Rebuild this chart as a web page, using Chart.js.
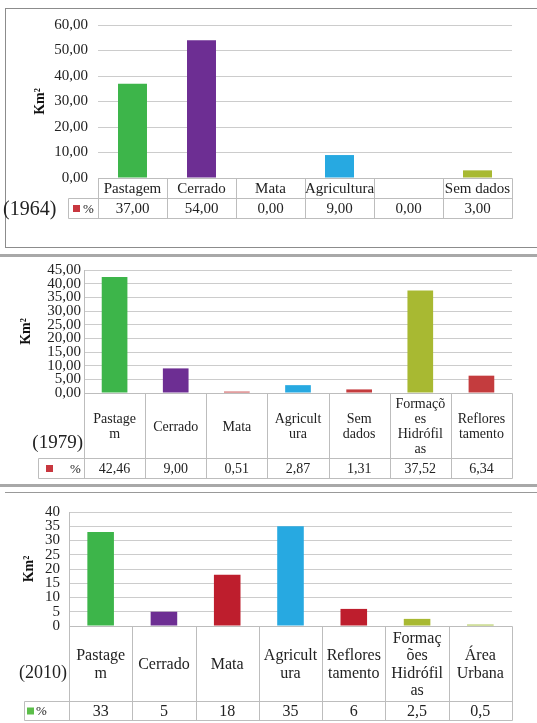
<!DOCTYPE html>
<html>
<head>
<meta charset="utf-8">
<script src="https://cdn.jsdelivr.net/npm/chart.js@4"></script>
<style>
  html, body { margin: 0; padding: 0; background: #fff; }
  body { width: 537px; height: 723px; position: relative; overflow: hidden; }
  canvas { position: absolute; left: 0; }
  .frame { position: absolute; left: 5px; top: 8px; width: 560px; height: 240px; border: 1.5px solid #8c8c8c; box-sizing: border-box; }
  .rule { position: absolute; left: 0; width: 537px; background: #a8a8a8; }
</style>
</head>
<body>
<div class="frame"></div>
<div class="rule" style="top:254px;height:3px"></div>
<div class="rule" style="top:484px;height:3px"></div>
<div class="rule" style="top:492px;height:1px;left:5px;background:#999"></div>
<canvas id="c1964" width="537" height="250" style="top:0"></canvas>
<canvas id="c1979" width="537" height="228" style="top:257px"></canvas>
<canvas id="c2010" width="537" height="229" style="top:494px"></canvas>
<script>
// dados 1964
const cats1964 = [['Pastagem'], ['Cerrado'], ['Mata'], ['Agricultura'], [''], ['Sem dados']];
const vals1964 = [37, 54, 0, 9, 0, 3];
const ticks1964 = { min: 0, max: 60, step: 10 };

// dados 1979
const cats1979 = [['Pastage', 'm'], ['Cerrado'], ['Mata'], ['Agricult', 'ura'], ['Sem', 'dados'],
  ['Formaçõ', 'es', 'Hidrófil', 'as'], ['Reflores', 'tamento']];
const vals1979 = [42.46, 9.00, 0.51, 2.87, 1.31, 37.52, 6.34];
const ticks1979 = { min: 0, max: 45, step: 5 };

// dados 2010
const cats2010 = [['Pastage', 'm'], ['Cerrado'], ['Mata'], ['Agricult', 'ura'], ['Reflores', 'tamento'],
  ['Formaç', 'ões', 'Hidrófil', 'as'], ['Área', 'Urbana']];
const vals2010 = [33, 5, 18, 35, 6, 2.5, 0.5];
const ticks2010 = { min: 0, max: 40, step: 5 };

// cores
const GREEN = '#3db54a', PURPLE = '#6d2e93', BLUE = '#27a9e1', OLIVE = '#a8b932';
const RED79 = '#c43c3e', RED10 = '#be1e2d';
const colors1964 = [GREEN, PURPLE, RED79, BLUE, OLIVE, OLIVE];
const colors1979 = [GREEN, PURPLE, RED79, BLUE, RED79, OLIVE, RED79];
const colors2010 = [GREEN, PURPLE, RED10, BLUE, RED10, OLIVE, '#a3bf3c'];

const SERIF = "'Liberation Serif', 'Times New Roman', serif";
Chart.defaults.font.family = SERIF;
Chart.defaults.color = '#222';

const fix2 = v => v.toFixed(2).replace('.', ',');
const plain = v => String(v).replace('.', ',');

// tabela de dados abaixo do gráfico
const tablePlugin = {
  id: 'dataTable',
  afterDraw(chart, args, o) {
    const { ctx, chartArea } = chart;
    const xs = chart.scales.x;
    const n = chart.data.labels.length;
    const w = xs.getPixelForValue(1) - xs.getPixelForValue(0);
    const top = Math.round(chartArea.bottom) + 0.5;
    const mid = top + o.row1;
    const bot = mid + o.row2;
    const left = Math.round(chartArea.left) + 0.5;
    const right = Math.round(chartArea.right) + 0.5;

    ctx.save();
    ctx.strokeStyle = '#bdbdbd';
    ctx.lineWidth = 1;
    ctx.beginPath();
    ctx.moveTo(left, top); ctx.lineTo(right, top);
    ctx.moveTo(o.legendLeft + 0.5, mid); ctx.lineTo(right, mid);
    ctx.moveTo(o.legendLeft + 0.5, bot); ctx.lineTo(right, bot);
    ctx.moveTo(o.legendLeft + 0.5, mid); ctx.lineTo(o.legendLeft + 0.5, bot);
    for (let i = 0; i <= n; i++) {
      const bx = Math.round(xs.getPixelForValue(i) - w / 2) + 0.5;
      ctx.moveTo(bx, top); ctx.lineTo(bx, bot);
    }
    ctx.stroke();

    ctx.fillStyle = '#222';
    ctx.textAlign = 'center';
    ctx.textBaseline = 'middle';
    ctx.font = o.font;
    const catMid = (top + mid) / 2;
    const valMid = (mid + bot) / 2;
    o.cats.forEach((lines, i) => {
      const cx = xs.getPixelForValue(i);
      const y0 = catMid - (lines.length - 1) * o.lh / 2 + 1;
      lines.forEach((t, k) => ctx.fillText(t, cx, y0 + k * o.lh));
      ctx.fillText(o.fmt(o.vals[i]), cx, valMid + 1);
    });

    // legenda
    ctx.fillStyle = o.legendColor;
    ctx.fillRect(o.sqX, valMid - 3.5, 7, 7);
    ctx.fillStyle = '#222';
    ctx.textAlign = 'left';
    ctx.font = '13px ' + SERIF;
    ctx.fillText('%', o.pctX, valMid + 1);

    // ano
    ctx.font = o.yearFont;
    ctx.textAlign = o.yearAlign;
    ctx.fillText(o.year, o.yearX, o.yearY === 'row2' ? valMid + 1 : o.yearY);
    ctx.restore();
  }
};

function makeChart(id, cfg) {
  return new Chart(document.getElementById(id), {
    type: 'bar',
    data: {
      labels: cfg.cats.map(l => l.join(' ')),
      datasets: [{
        data: cfg.vals,
        backgroundColor: cfg.colors,
        barPercentage: 0.42,
        categoryPercentage: 1
      }]
    },
    options: {
      responsive: false,
      animation: false,
      events: [],
      layout: { padding: { top: cfg.padTop, right: 25, bottom: cfg.padBottom, left: cfg.padLeft } },
      plugins: {
        legend: { display: false },
        tooltip: { enabled: false },
        dataTable: cfg.table
      },
      scales: {
        x: {
          ticks: { display: false },
          grid: { display: false },
          border: { display: false },
          afterFit: s => { s.height = cfg.xHeight; }
        },
        y: {
          min: cfg.ticks.min,
          max: cfg.ticks.max,
          ticks: {
            stepSize: cfg.ticks.step,
            autoSkip: false,
            padding: cfg.tickPad,
            font: { size: cfg.tickSize },
            callback: v => cfg.tickFmt(v)
          },
          grid: { color: '#cccccc', drawTicks: false },
          border: { display: cfg.yBorder, color: '#bdbdbd' },
          title: {
            display: true,
            text: 'Km²',
            font: { size: 14, weight: 'bold' },
            padding: { top: 0, bottom: 0 },
            color: '#111'
          },
          afterFit: s => { s.width = cfg.yWidth; }
        }
      }
    },
    plugins: [tablePlugin]
  });
}

makeChart('c1964', {
  cats: cats1964, vals: vals1964, colors: colors1964, ticks: ticks1964,
  padTop: 25, padBottom: 27, padLeft: 32, xHeight: 45, yWidth: 66,
  tickPad: 10, tickSize: 15, tickFmt: fix2, yBorder: false,
  table: {
    cats: cats1964, vals: vals1964, fmt: fix2, row1: 20, row2: 20, lh: 15,
    font: '15px ' + SERIF, legendLeft: 68, legendColor: '#c8373f', sqX: 73, pctX: 83,
    year: '(1964)', yearFont: '20px ' + SERIF, yearAlign: 'left', yearX: 3, yearY: 'row2'
  }
});

makeChart('c1979', {
  cats: cats1979, vals: vals1979, colors: colors1979, ticks: ticks1979,
  padTop: 13, padBottom: 12, padLeft: 18, xHeight: 80, yWidth: 66,
  tickPad: 3, tickSize: 15, tickFmt: fix2, yBorder: true,
  table: {
    cats: cats1979, vals: vals1979, fmt: fix2, row1: 65, row2: 20, lh: 15,
    font: '14px ' + SERIF, legendLeft: 38, legendColor: '#c8373f', sqX: 46, pctX: 70,
    year: '(1979)', yearFont: '19px ' + SERIF, yearAlign: 'right', yearX: 83, yearY: 186
  }
});

makeChart('c2010', {
  cats: cats2010, vals: vals2010, colors: colors2010, ticks: ticks2010,
  padTop: 13, padBottom: 17, padLeft: 21, xHeight: 80, yWidth: 48,
  tickPad: 9, tickSize: 15, tickFmt: plain, yBorder: true,
  table: {
    cats: cats2010, vals: vals2010, fmt: plain, row1: 75, row2: 19, lh: 17.5,
    font: '16px ' + SERIF, legendLeft: 24, legendColor: '#5cbe4a', sqX: 27, pctX: 36,
    year: '(2010)', yearFont: '18px ' + SERIF, yearAlign: 'right', yearX: 67, yearY: 179
  }
});
</script>
</body>
</html>
